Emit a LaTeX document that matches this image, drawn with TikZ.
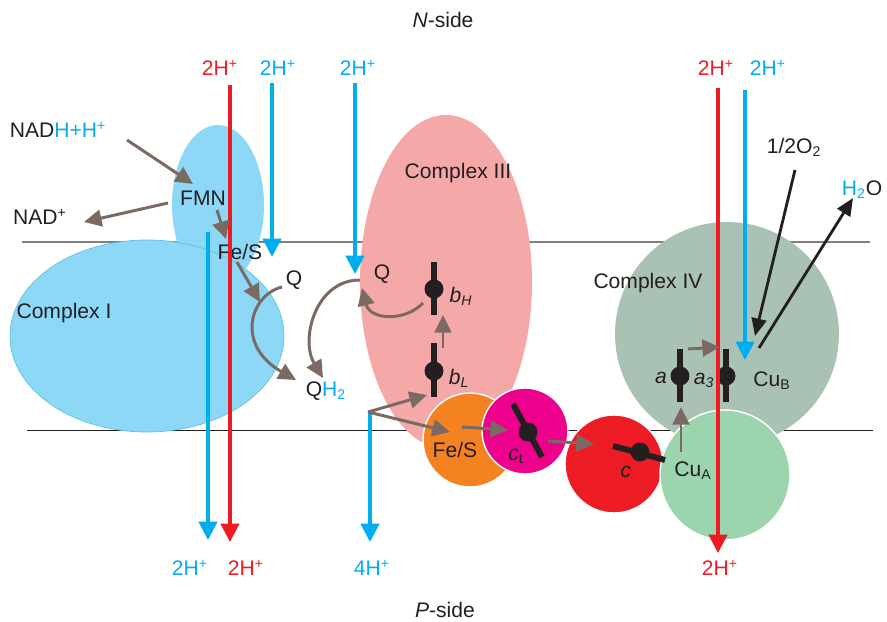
\documentclass[tikz,border=0pt]{standalone}
\usepackage{fontspec}
\setmainfont{Liberation Sans}
\usepackage{tikz}
\usetikzlibrary{arrows.meta, positioning, shapes, calc}

\definecolor{ink}{HTML}{231F20}
\definecolor{hblue}{HTML}{00AEEF}
\definecolor{hred}{HTML}{ED1C24}
\definecolor{brn}{HTML}{7B6A63}
\definecolor{cI}{HTML}{8DD7F7}
\definecolor{cIedge}{HTML}{5CC3DD}
\definecolor{cIII}{HTML}{F5A8A8}
\definecolor{fes}{HTML}{F58220}
\definecolor{ctc}{HTML}{EC008C}
\definecolor{cyc}{HTML}{ED1C24}
\definecolor{cIV}{HTML}{A9C2B4}
\definecolor{cuA}{HTML}{9CD4AE}

\begin{document}
\begin{tikzpicture}[x=0.02cm, y=-0.02cm,
    every node/.style={font=\fontsize{12}{14}\selectfont, text=ink, inner sep=0pt},
    pump/.style={line width=1.8pt, -{Triangle[length=10.5pt, width=10.5pt]}},
    etr/.style={draw=brn, line width=1.7pt, -{Triangle[length=10pt, width=9.5pt]}},
    oxy/.style={draw=ink, line width=1.6pt, -{Triangle[length=10pt, width=8.5pt]}},
    heme/.style={circle, fill=ink, minimum size=0.38cm},
    hemebar/.style={draw=ink, line width=3.4pt},
    sub/.style={fill=white, draw=white, line width=0.8pt}]
    \useasboundingbox (0,0) rectangle (887,622);

    \draw[gray, line width=0.7pt] (22,242) -- (870,242);
    \draw[ink, line width=0.5pt] (27,430) -- (873,430);

    \fill[cI] (218,205) ellipse (46 and 80);
    \filldraw[fill=cI, draw=cIedge, line width=0.4pt] (147,336) ellipse (137 and 96);
    \fill[cIII] (446,282) ellipse (86 and 167);
    \fill[cIV] (727,334) circle (112);
    \filldraw[sub, fill=cyc] (614,464) circle (49);
    \filldraw[sub, fill=cuA] (725,475) circle (65);
    \filldraw[sub, fill=fes] (470,440) circle (47);
    \filldraw[sub, fill=ctc] (525,431) circle (43);

    \node (nside) at (443,20) {\textit{N}-side};
    \node (pside) at (445,610) {\textit{P}-side};

    \node[text=hred] (i1) at (220,68) {2H\textsuperscript{+}};
    \node[text=hblue] (i2) at (278,68) {2H\textsuperscript{+}};
    \node[text=hblue] (i3) at (358,68) {2H\textsuperscript{+}};
    \node[text=hred] (i4) at (716,68) {2H\textsuperscript{+}};
    \node[text=hblue] (i5) at (768,68) {2H\textsuperscript{+}};
    \node[text=hblue] (o1) at (190,568) {2H\textsuperscript{+}};
    \node[text=hred] (o2) at (246,568) {2H\textsuperscript{+}};
    \node[text=hblue] (o3) at (372,568) {4H\textsuperscript{+}};
    \node[text=hred] (o4) at (720,568) {2H\textsuperscript{+}};

    \node (cxI) at (64,313) {Complex I};
    \node (cxIII) at (458,173) {Complex III};
    \node (cxIV) at (648,283) {Complex IV};

    \node (nadh) at (58,130) {NAD\textcolor{hblue}{H+H\textsuperscript{+}}};
    \node (nad) at (40,217) {NAD\textsuperscript{+}};
    \node (fmn) at (203,198) {FMN};
    \node (fes1) at (240,252) {Fe/S};
    \node (q1) at (294,280) {Q};
    \node (qh2) at (326,391) {Q\textcolor{hblue}{H\textsubscript{2}}};
    \node (q3) at (382,274) {Q};
    \node (lbH) at (461,296) {\textit{b}\textsubscript{\textit{H}}};
    \node (lbL) at (459,378) {\textit{b}\textsubscript{\textit{L}}};
    \node (fes3) at (455,450) {Fe/S};
    \node (lct) at (516,456) {\textit{c}\textsubscript{t}};
    \node (lc) at (626,472) {\textit{c}};
    \node (lcuA) at (693,471) {Cu\textsubscript{A}};
    \node (la) at (661,378) {\textit{a}};
    \node (la3) at (704,380) {\textit{a}\textsubscript{\textit{3}}};
    \node (lcuB) at (772,381) {Cu\textsubscript{B}};
    \node (o2in) at (794,147) {1/2O\textsubscript{2}};
    \node (h2o) at (862,190) {\textcolor{hblue}{H\textsubscript{2}}O};

    \node[heme] (bH) at (434,289) {};
    \node[heme] (bL) at (434,371) {};
    \node[heme] (ct) at (528,432) {};
    \node[heme] (cc) at (640,452) {};
    \node[heme] (ha) at (680,376) {};
    \node[heme] (ha3) at (726,376) {};
    \draw[hemebar] (bH) ++(0,-27) -- ++(0,53);
    \draw[hemebar] (bL) ++(0,-28) -- ++(0,54);
    \draw[hemebar] (513,404) -- (542,457);
    \draw[hemebar] (613,446) -- (665,460);
    \draw[hemebar] (ha) ++(0,-27) -- ++(0,53);
    \draw[hemebar] (ha3) ++(0,-27) -- ++(0,53);

    \coordinate (p1a) at (230,85);  \coordinate (p1b) at (230,542);
    \coordinate (p2a) at (272,83);  \coordinate (p2b) at (272,257);
    \coordinate (p3a) at (208,232); \coordinate (p3b) at (208,540);
    \coordinate (p4a) at (355,83);  \coordinate (p4b) at (355,274);
    \coordinate (p5a) at (370,413); \coordinate (p5b) at (370,542);
    \coordinate (p6a) at (718,88);  \coordinate (p6b) at (718,553);
    \coordinate (p7a) at (745,90);  \coordinate (p7b) at (745,360);
    \draw[pump, hred] (p1a) -- (p1b);
    \draw[pump, hblue] (p2a) -- (p2b);
    \draw[pump, hblue] (p3a) -- (p3b);
    \draw[pump, hblue] (p4a) -- (p4b);
    \draw[pump, hblue] (p5a) -- (p5b);
    \draw[pump, hred] (p6a) -- (p6b);
    \draw[pump, hblue] (p7a) -- (p7b);

    \coordinate (e1) at (127,140); \coordinate (e2) at (193,184);
    \coordinate (e3) at (168,203); \coordinate (e4) at (84,222);
    \coordinate (e5) at (217,210); \coordinate (e6) at (226,239);
    \coordinate (e7) at (237,262); \coordinate (e8) at (260,302);
    \coordinate (e9) at (282,287); \coordinate (e10) at (296,380);
    \coordinate (e11) at (360,280); \coordinate (e12) at (323,378);
    \coordinate (e13) at (423,303); \coordinate (e14) at (362,288);
    \coordinate (e15) at (443,348); \coordinate (e16) at (443,315);
    \coordinate (fork) at (368,412);
    \coordinate (e17) at (427,395); \coordinate (e18) at (450,432);
    \coordinate (e19) at (462,427); \coordinate (e20) at (508,430);
    \coordinate (e21) at (548,441); \coordinate (e22) at (594,444);
    \coordinate (e23) at (681,452); \coordinate (e24) at (681,407);
    \coordinate (e25) at (688,349); \coordinate (e26) at (720,347);
    \draw[etr] (e1) -- (e2);
    \draw[etr] (e3) -- (e4);
    \draw[etr] (e5) -- (e6);
    \draw[etr] (e7) -- (e8);
    \draw[etr] (e9) .. controls (250,295) and (235,345) .. (e10);
    \draw[etr] (e11) .. controls (315,280) and (300,340) .. (e12);
    \draw[etr] (e13) .. controls (405,322) and (370,320) .. (e14);
    \draw[etr] (e15) -- (e16);
    \draw[etr] (fork) -- (e17);
    \draw[etr] (fork) -- (e18);
    \draw[etr] (e19) -- (e20);
    \draw[etr] (e21) -- (e22);
    \draw[etr] (e23) -- (e24);
    \draw[etr] (e25) -- (e26);

    \coordinate (x1) at (795,170); \coordinate (x2) at (755,336);
    \coordinate (x3) at (759,348); \coordinate (x4) at (853,198);
    \draw[oxy] (x1) -- (x2);
    \draw[oxy] (x3) -- (x4);
\end{tikzpicture}
\end{document}
